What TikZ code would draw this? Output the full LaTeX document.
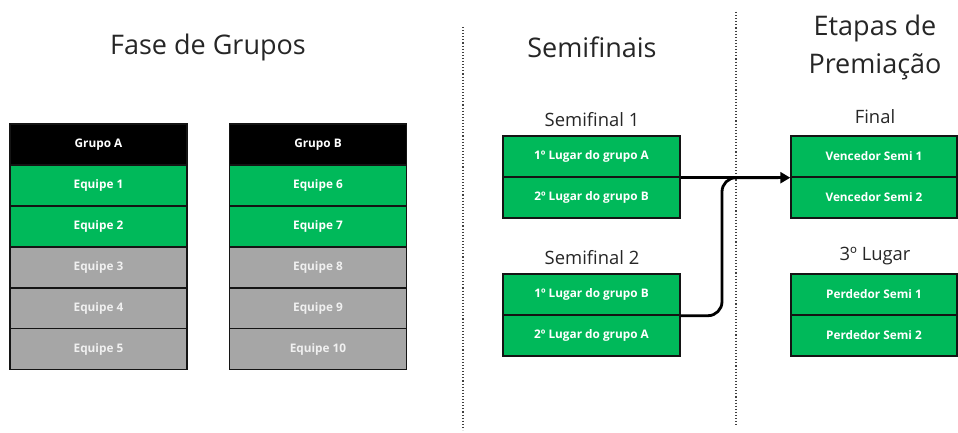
\documentclass[tikz,border=0pt]{standalone}
\usepackage{fontspec}
\setmainfont{Open Sans}
\usetikzlibrary{arrows.meta}
\definecolor{cellgreen}{RGB}{0,185,90}
\definecolor{cellgray}{RGB}{166,166,166}
\definecolor{grayfont}{RGB}{240,240,240}
\definecolor{edge}{RGB}{20,20,20}
\begin{document}
\begin{tikzpicture}[x=1pt,y=-1pt,
  cell/.style={draw=edge,line width=1.4pt,minimum height=41pt,inner sep=0pt,
    font=\fontsize{11.8}{13}\selectfont\bfseries},
  wide/.style={minimum width=177pt},
  narrow/.style={minimum width=166pt},
  headcell/.style={cell,fill=black,text=white},
  wincell/.style={cell,fill=cellgreen,text=white},
  losecell/.style={cell,fill=cellgray,text=grayfont},
  title/.style={font=\fontsize{27}{38}\selectfont,text=black!85,align=center},
  sub/.style={font=\fontsize{18.4}{22}\selectfont,text=black!85},
  divider/.style={dotted,line width=1.1pt,black!75},
  link/.style={line width=2.8pt,rounded corners=14pt}]
\useasboundingbox (0,0) rectangle (958,433);

% column titles
\node[title] (tgroups) at (208,47) {Fase de Grupos};
\node[title] (tsemis) at (592,47) {Semifinais};
\node[title] (tprize) at (875,47) {Etapas de\\Premiação};

% dotted separators
\coordinate (d1t) at (463,27);
\coordinate (d1b) at (463,430);
\coordinate (d2t) at (736,12);
\coordinate (d2b) at (736,425);
\draw[divider] (d1t) -- (d1b);
\draw[divider] (d2t) -- (d2b);

% group A
\node[headcell,wide] (ga) at (98.5,144.5) {Grupo A};
\node[wincell,wide]  (ga1) at (98.5,185.5) {Equipe 1};
\node[wincell,wide]  (ga2) at (98.5,226.5) {Equipe 2};
\node[losecell,wide] (ga3) at (98.5,267.5) {Equipe 3};
\node[losecell,wide] (ga4) at (98.5,308.5) {Equipe 4};
\node[losecell,wide] (ga5) at (98.5,349) {Equipe 5};

% group B
\node[headcell,wide] (gb) at (318,144.5) {Grupo B};
\node[wincell,wide]  (gb1) at (318,185.5) {Equipe 6};
\node[wincell,wide]  (gb2) at (318,226.5) {Equipe 7};
\node[losecell,wide] (gb3) at (318,267.5) {Equipe 8};
\node[losecell,wide] (gb4) at (318,308.5) {Equipe 9};
\node[losecell,wide] (gb5) at (318,349) {Equipe 10};

% semifinals
\node[sub] (ls1) at (592,120) {Semifinal 1};
\node[wincell,wide] (s1a) at (591.5,156.5) {1º Lugar do grupo A};
\node[wincell,wide] (s1b) at (591.5,197.5) {2º Lugar do grupo B};
\node[sub] (ls2) at (592,258) {Semifinal 2};
\node[wincell,wide] (s2a) at (591.5,294.5) {1º Lugar do grupo B};
\node[wincell,wide] (s2b) at (591.5,335.5) {2º Lugar do grupo A};

% final and third place
\node[sub] (lf) at (875,117) {Final};
\node[wincell,narrow] (f1) at (874,156.5) {Vencedor Semi 1};
\node[wincell,narrow] (f2) at (874,197.5) {Vencedor Semi 2};
\node[sub] (l3) at (875,256) {3º Lugar};
\node[wincell,narrow] (t1) at (874,294.5) {Perdedor Semi 1};
\node[wincell,narrow] (t2) at (874,335.5) {Perdedor Semi 2};

% winners advance to the final
\coordinate (bend) at (722,0);
\draw[link,-{Triangle[length=10pt,width=11pt]}] (s1a.south east) -- (f1.south west);
\draw[link] (s2a.south east) -- (s2a.south east -| bend) -- (bend |- f1.south west) -- ([xshift=-12pt]f1.south west);
\end{tikzpicture}
\end{document}
